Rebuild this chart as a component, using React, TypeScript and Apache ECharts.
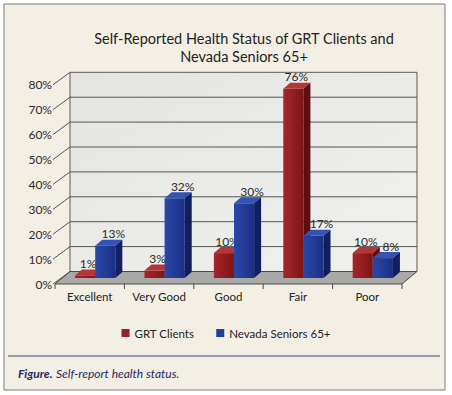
import React, { useEffect, useRef } from "react";
import * as echarts from "echarts";

const categories = ["Excellent", "Very Good", "Good", "Fair", "Poor"];
const grtClients = [1, 3, 10, 76, 10];
const nevadaSeniors = [13, 32, 30, 17, 8];
const yTicks = [0, 10, 20, 30, 40, 50, 60, 70, 80];
const yTickLabels = ["0%", "10%", "20%", "30%", "40%", "50%", "60%", "70%", "80%"];
const seriesNames = ["GRT Clients", "Nevada Seniors 65+"];
const titleLines = ["Self-Reported Health Status of GRT Clients and", "Nevada Seniors 65+"];
const caption = ["Figure.", "Self-report health status."];

const FONT = "Lato, 'Noto Sans', sans-serif";
const FRONT = { dx: -5.5, dy: 6 };
const BACK = { dx: 9.5, dy: -6.5 };
const DEPTH = { dx: 7, dy: -6 };

const palette = [
  { front: ["#a5262a", "#7c1417"], top: "#b3373a", side: "#5f0d10", legend: "#9b1f23", labelDx: 3 },
  { front: ["#2a48a8", "#1a2f85"], top: "#3553b5", side: "#111f5e", legend: "#213d98", labelDx: 8 },
];

function barSeries(idx: number, values: number[]) {
  const pal = palette[idx];
  return {
    type: "custom",
    name: seriesNames[idx],
    itemStyle: { color: pal.legend },
    data: values.map((v, i) => [i, v]),
    z: 10 + idx,
    renderItem: (params: any, api: any) => {
      const cat = api.value(0);
      const val = api.value(1);
      const topPt = api.coord([cat, val]);
      const basePt = api.coord([cat, 0]);
      const band = api.size([1, 0])[0];
      const w = band * 0.29;
      const left = topPt[0] + (idx === 0 ? -w : 0);
      const top = topPt[1];
      const bottom = basePt[1];
      const r = left + w;
      return {
        type: "group",
        children: [
          {
            type: "polygon",
            shape: { points: [[left, top], [r, top], [r, bottom], [left, bottom]] },
            style: {
              fill: new echarts.graphic.LinearGradient(0, 0, 1, 0, [
                { offset: 0, color: pal.front[0] },
                { offset: 1, color: pal.front[1] },
              ]),
            },
          },
          {
            type: "polygon",
            shape: {
              points: [[left, top], [left + DEPTH.dx, top + DEPTH.dy], [r + DEPTH.dx, top + DEPTH.dy], [r, top]],
            },
            style: { fill: pal.top },
          },
          {
            type: "polygon",
            shape: {
              points: [[r, top], [r + DEPTH.dx, top + DEPTH.dy], [r + DEPTH.dx, bottom + DEPTH.dy], [r, bottom]],
            },
            style: { fill: pal.side },
          },
          {
            type: "text",
            x: left + w / 2 + pal.labelDx,
            y: top - 6,
            style: {
              text: val + "%",
              fill: "#2a2a2a",
              font: `12px ${FONT}`,
              align: "center",
              verticalAlign: "bottom",
            },
          },
        ],
      };
    },
  };
}

export default function App() {
  const ref = useRef<HTMLDivElement>(null);
  useEffect(() => {
    if (!ref.current) return;
    const chart = echarts.init(ref.current, null, { renderer: "svg" });
    const frameSeries = {
      type: "custom",
      z: 1,
      silent: true,
      data: yTicks.map((v, i) => [v, i]),
      renderItem: (params: any, api: any) => {
        const v = api.value(0);
        const li = api.value(1);
        const cs = params.coordSys;
        const x0 = cs.x;
        const x1 = cs.x + cs.width;
        const y0 = api.coord([0, 0])[1];
        const yTop = cs.y;
        const y = api.coord([0, v])[1];
        const children: any[] = [];
        if (li === 0) {
          children.push({
            type: "polygon",
            shape: {
              points: [
                [x0 + BACK.dx, yTop + BACK.dy],
                [x1 + BACK.dx, yTop + BACK.dy],
                [x1 + BACK.dx, y0 + BACK.dy],
                [x0 + BACK.dx, y0 + BACK.dy],
              ],
            },
            style: {
              fill: new echarts.graphic.LinearGradient(0, 0, 1, 1, [
                { offset: 0, color: "#e4e4e2" },
                { offset: 1, color: "#f1f1ef" },
              ]),
              stroke: "#5a5a5a",
              lineWidth: 1,
            },
          });
          children.push({
            type: "polygon",
            shape: {
              points: [
                [x0 + FRONT.dx, y0 + FRONT.dy],
                [x1 + FRONT.dx, y0 + FRONT.dy],
                [x1 + BACK.dx, y0 + BACK.dy],
                [x0 + BACK.dx, y0 + BACK.dy],
              ],
            },
            style: { fill: "#a9a9a7", stroke: "#4a4a4a", lineWidth: 1 },
          });
          const band = (x1 - x0) / categories.length;
          for (let k = 0; k <= categories.length; k++) {
            const tx = x0 + FRONT.dx + band * k;
            children.push({
              type: "line",
              shape: { x1: tx, y1: y0 + FRONT.dy, x2: tx, y2: y0 + FRONT.dy + 5 },
              style: { stroke: "#4a4a4a", lineWidth: 1 },
            });
          }
        } else if (v < yTicks[yTicks.length - 1]) {
          children.push({
            type: "line",
            shape: { x1: x0 + BACK.dx, y1: y + BACK.dy, x2: x1 + BACK.dx, y2: y + BACK.dy },
            style: { stroke: "#555", lineWidth: 1 },
          });
        }
        children.push({
          type: "line",
          shape: { x1: x0 + FRONT.dx - 2, y1: y + FRONT.dy, x2: x0 + BACK.dx, y2: y + BACK.dy },
          style: { stroke: "#555", lineWidth: 1 },
        });
        children.push({
          type: "text",
          x: x0 + FRONT.dx - 3,
          y: y + FRONT.dy,
          style: {
            text: yTickLabels[li],
            fill: "#2a2a2a",
            font: `12px ${FONT}`,
            align: "right",
            verticalAlign: "middle",
          },
        });
        return { type: "group", children };
      },
    };

    chart.setOption({
      animation: false,
      backgroundColor: "#ffffff",
      graphic: [
        {
          type: "rect",
          z: -10,
          shape: { x: 4, y: 4, width: 441, height: 386 },
          style: { fill: "#f3efe5", stroke: "#7a7a7a", lineWidth: 1 },
        },
        {
          type: "text",
          x: 244,
          y: 38,
          style: { text: titleLines[0], font: `14.5px ${FONT}`, fill: "#222", align: "center", verticalAlign: "middle" },
        },
        {
          type: "text",
          x: 244,
          y: 56,
          style: { text: titleLines[1], font: `14.5px ${FONT}`, fill: "#222", align: "center", verticalAlign: "middle" },
        },
        {
          type: "line",
          shape: { x1: 8, y1: 356, x2: 440, y2: 356 },
          style: { stroke: "#3d4176", lineWidth: 1 },
        },
        {
          type: "text",
          x: 18,
          y: 373,
          style: {
            text: `{b|${caption[0]}} {i|${caption[1]}}`,
            verticalAlign: "middle",
            rich: {
              b: { fontFamily: FONT, fontSize: 12, fontWeight: "bold", fontStyle: "italic", fill: "#262a5e", color: "#262a5e" },
              i: { fontFamily: FONT, fontSize: 12, fontStyle: "italic", fill: "#262a5e", color: "#262a5e" },
            },
          },
        },
      ],
      legend: {
        data: seriesNames,
        top: 322,
        left: "center",
        icon: "rect",
        itemWidth: 8,
        itemHeight: 8,
        itemGap: 22,
        textStyle: { fontFamily: FONT, fontSize: 11.5, color: "#222" },
      },
      grid: { left: 60.5, right: 44.5, top: 78.8, bottom: 117 },
      xAxis: {
        type: "category",
        data: categories,
        axisLine: { show: false },
        axisTick: { show: false },
        axisLabel: {
          interval: 0,
          margin: 12,
          fontFamily: FONT,
          fontSize: 11.5,
          color: "#222",
          padding: [0, 11, 0, 0],
        },
      },
      yAxis: {
        type: "value",
        min: 0,
        max: 80,
        interval: 10,
        axisLabel: { show: false },
        axisLine: { show: false },
        axisTick: { show: false },
        splitLine: { show: false },
      },
      series: [frameSeries, barSeries(0, grtClients), barSeries(1, nevadaSeniors)],
    });
    return () => chart.dispose();
  }, []);
  return <div ref={ref} style={{ position: "absolute", left: 0, top: 0, width: 452, height: 395 }} />;
}
